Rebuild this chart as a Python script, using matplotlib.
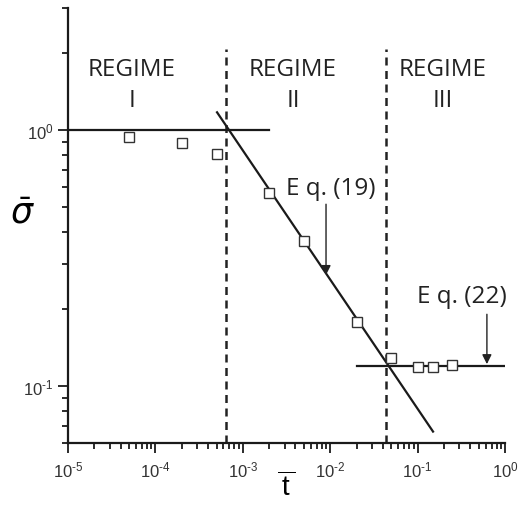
import matplotlib
matplotlib.use("Agg")
import matplotlib.pyplot as plt
import numpy as np
from matplotlib.ticker import LogLocator, FuncFormatter, NullFormatter

plt.rcParams["font.family"] = ["Liberation Sans", "DejaVu Sans"]
plt.rcParams["mathtext.default"] = "regular"

# measured points (squares)
t_data = [5e-5, 2e-4, 5e-4, 2e-3, 5e-3, 0.02, 0.05, 0.1, 0.15, 0.25]
sigma_data = [0.94, 0.89, 0.81, 0.57, 0.37, 0.178, 0.129, 0.119, 0.119, 0.121]

# fitted lines
fit1_t = [1e-5, 2e-3]
fit1_sigma = [1.0, 1.0]
eq19_t = [5.07e-4, 0.15]
eq19_sigma = [1.175, 0.0665]
eq22_t = [0.02, 1.0]
eq22_sigma = [0.12, 0.12]

# regime boundaries
boundaries = [6.5e-4, 0.044]
regime_x = [5.4e-5, 3.75e-3, 0.195]
regime_num = ["I", "II", "III"]


def pow10(v, pos):
    n = int(round(np.log10(v)))
    s = "\u2010%d" % -n if n < 0 else "%d" % n
    return "10$^{%s}$" % s


fig = plt.figure(figsize=(5.18, 5.06), dpi=100)
ax = fig.add_axes([0.1313, 0.1225, 0.8437, 0.8595])
ax.set_xscale("log")
ax.set_yscale("log")
ax.set_xlim(1e-5, 1.0)
ax.set_ylim(0.06, 3.0)

for b in boundaries:
    ax.plot([b, b], [0.06, 2.07], color="#222222", lw=1.8, dashes=(3.2, 2.2))

ax.plot(fit1_t, fit1_sigma, color="#1a1a1a", lw=1.6)
ax.plot(eq19_t, eq19_sigma, color="#1a1a1a", lw=1.6)
ax.plot(eq22_t, eq22_sigma, color="#1a1a1a", lw=1.6)
ax.plot(t_data, sigma_data, ls="none", marker="s", ms=7, mfc="white",
        mec="#333333", mew=1.0)

tfont = dict(family=["Open Sans", "DejaVu Sans"], fontsize=17.5, color="#222222")
for x, n in zip(regime_x, regime_num):
    ax.text(x, 1.64, "REGIME", ha="center", va="baseline", **tfont)
    ax.text(x, 1.24, n, ha="center", va="baseline", **tfont)

ax.annotate("", xy=(8.95e-3, 0.272), xytext=(8.95e-3, 0.514),
            arrowprops=dict(arrowstyle="-|>", lw=1.0, color="#222222",
                            mutation_scale=14, shrinkA=0, shrinkB=0))
ax.text(0.0102, 0.562, "E q. (19)", ha="center", va="baseline", **tfont)
ax.annotate("", xy=(0.62, 0.122), xytext=(0.62, 0.191),
            arrowprops=dict(arrowstyle="-|>", lw=1.0, color="#222222",
                            mutation_scale=14, shrinkA=0, shrinkB=0))
ax.text(0.322, 0.213, "E q. (22)", ha="center", va="baseline", **tfont)

for s in ["top", "right"]:
    ax.spines[s].set_visible(False)
for s in ["left", "bottom"]:
    ax.spines[s].set_linewidth(1.6)
    ax.spines[s].set_color("#1a1a1a")

ax.xaxis.set_major_locator(LogLocator(base=10, numticks=10))
ax.xaxis.set_minor_locator(LogLocator(base=10, subs=range(2, 10), numticks=10))
ax.xaxis.set_major_formatter(FuncFormatter(pow10))
ax.yaxis.set_major_formatter(FuncFormatter(pow10))
ax.xaxis.set_minor_formatter(NullFormatter())
ax.yaxis.set_minor_formatter(NullFormatter())
ax.tick_params(which="major", length=7, width=1.3, labelsize=12,
               color="#1a1a1a", labelcolor="#333333")
ax.tick_params(which="minor", length=4, width=1.3, color="#1a1a1a")
ax.tick_params(axis="x", which="major", pad=5)

ax.set_xlabel(r"$\overline{\,t\,}$", fontsize=20, va="center")
ax.xaxis.set_label_coords(0.5, -0.1)
ax.set_ylabel(r"$\bar{\mathit{\sigma}}$", fontsize=25, rotation=0,
              va="center", ha="center")
ax.yaxis.set_label_coords(-0.105, 0.529)

fig.savefig("out.png", dpi=100)
